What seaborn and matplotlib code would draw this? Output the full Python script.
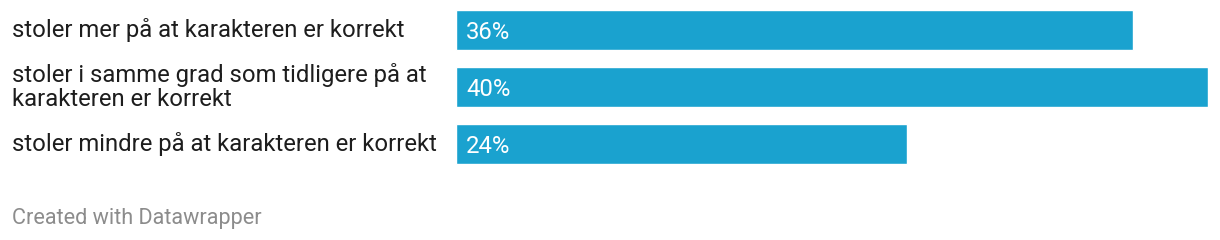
import matplotlib
matplotlib.use("Agg")
import matplotlib.pyplot as plt
import matplotlib.transforms as mtransforms
import seaborn as sns
import pandas as pd

categories = [
    "stoler mer på at karakteren er korrekt",
    "stoler i samme grad som tidligere på at\nkarakteren er korrekt",
    "stoler mindre på at karakteren er korrekt",
]
values = [36, 40, 24]
value_labels = ["36%", "40%", "24%"]

df = pd.DataFrame({"kategori": categories, "andel": values})

sns.set_theme(style="white")
plt.rcParams["font.family"] = ["Roboto", "DejaVu Sans"]

W, H = 1220, 240
fig = plt.figure(figsize=(W / 100, H / 100), dpi=100)
left_px, right_px = 456, 1208
top_px, bot_px = 1.6, 172.4
ax = fig.add_axes([left_px / W, 1 - bot_px / H, (right_px - left_px) / W, (bot_px - top_px) / H])

sns.barplot(data=df, x="andel", y="kategori", orient="h", color="#1aa2cf",
            saturation=1, width=0.7, ax=ax, order=categories)
ax.set_xlim(0, 40)
ax.set_ylim(2.5, -0.5)
ax.set_xlabel("")
ax.set_ylabel("")
ax.set_xticks([])
ax.set_yticks([])
for s in ax.spines.values():
    s.set_visible(False)

trans = mtransforms.blended_transform_factory(fig.transFigure, ax.transData)
for i, (cat, lab) in enumerate(zip(categories, value_labels)):
    ax.text(12 / W, i, cat, transform=trans, ha="left", va="center",
            fontsize=17.2, color="#1d1d1d", linespacing=1.1)
    ax.text((left_px + 10) / W, i, lab, transform=trans, ha="left", va="center_baseline",
            fontsize=17.2, color="white")

fig.text(12 / W, 1 - 216 / H, "Created with Datawrapper", ha="left", va="center_baseline",
         fontsize=15.6, color="#8c8c8c")

fig.savefig("out.png", dpi=100, facecolor="white")
